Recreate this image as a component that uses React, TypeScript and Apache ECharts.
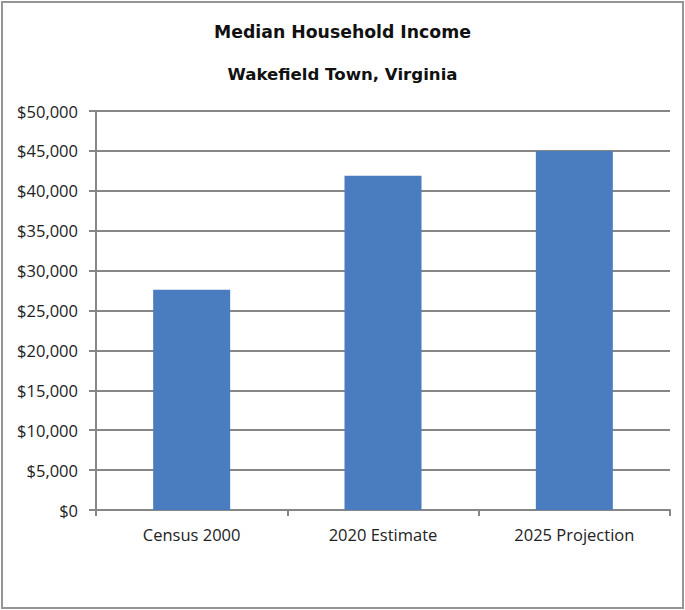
import React, { useEffect, useRef } from "react";
import * as echarts from "echarts";

const categories = ["Census 2000", "2020 Estimate", "2025 Projection"];
const incomeValues = [27600, 41900, 45000];
const titleText = "Median Household Income";
const subtitleText = "Wakefield Town, Virginia";

export default function App() {
  const ref = useRef<HTMLDivElement>(null);
  useEffect(() => {
    document.body.style.margin = "0";
    const chart = echarts.init(ref.current!, undefined, { renderer: "svg" });
    chart.setOption({
      animation: false,
      backgroundColor: "#ffffff",
      title: [
        {
          text: titleText,
          left: "center",
          top: 18,
          textStyle: { fontFamily: "DejaVu Sans", fontWeight: "bold", fontSize: 17.3, color: "#111" },
        },
        {
          text: subtitleText,
          left: "center",
          top: 61,
          textStyle: { fontFamily: "DejaVu Sans", fontWeight: "bold", fontSize: 16.6, color: "#111" },
        },
      ],
      graphic: [
        {
          type: "rect",
          shape: { x: 2, y: 2, width: 681, height: 606 },
          style: { fill: "none", stroke: "#959595", lineWidth: 2 },
          silent: true,
        },
      ],
      grid: { left: 96, right: 15, top: 111, bottom: 100, containLabel: false },
      xAxis: {
        type: "category",
        data: categories,
        axisLine: { show: true, lineStyle: { color: "#868686", width: 2 } },
        axisTick: { show: true, alignWithLabel: false, length: 6, lineStyle: { color: "#868686", width: 2 } },
        axisLabel: { fontFamily: "Open Sans", fontSize: 16.5, color: "#222", margin: 16 },
      },
      yAxis: {
        type: "value",
        min: 0,
        max: 50000,
        interval: 5000,
        axisLine: { show: true, lineStyle: { color: "#868686", width: 2 } },
        axisTick: { show: true, length: 7, lineStyle: { color: "#868686", width: 2 } },
        splitLine: { show: true, lineStyle: { color: "#868686", width: 2 } },
        axisLabel: {
          fontFamily: "Open Sans",
          fontSize: 16.5,
          color: "#222",
          margin: 18,
          formatter: (v: number) => "$" + v.toLocaleString("en-US"),
        },
      },
      series: [
        {
          type: "bar",
          data: incomeValues,
          barWidth: 77,
          itemStyle: { color: "#4a7dc0" },
        },
      ],
    });
    return () => chart.dispose();
  }, []);
  return <div ref={ref} style={{ width: 685, height: 610 }} />;
}
